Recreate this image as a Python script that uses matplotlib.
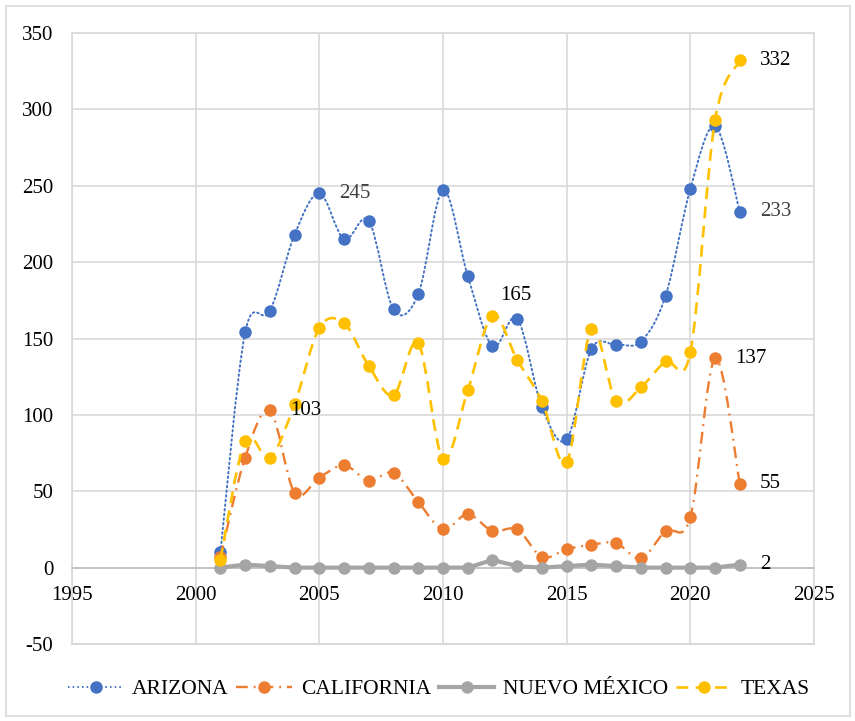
import matplotlib
matplotlib.use('Agg')
import matplotlib.pyplot as plt
import numpy as np
from matplotlib.path import Path
from matplotlib.patches import PathPatch, Rectangle
from matplotlib.lines import Line2D

years = list(range(2001, 2023))

arizona = [10, 154, 168, 218, 245, 215, 227, 169, 179, 247, 191,
           145, 163, 105, 84, 143, 146, 148, 178, 248, 289, 233]
california = [7, 72, 103, 49, 59, 67, 57, 62, 43, 25, 35,
              24, 25, 7, 12, 15, 16, 6, 24, 33, 137, 55]
nuevo_mexico = [0, 2, 1, 0, 0, 0, 0, 0, 0, 0, 0,
                5, 1, 0, 1, 2, 1, 0, 0, 0, 0, 2]
texas = [5, 83, 72, 107, 157, 160, 132, 113, 147, 71, 116,
         165, 136, 109, 69, 156, 109, 118, 135, 141, 293, 332]

names = ['ARIZONA', 'CALIFORNIA', 'NUEVO MÉXICO', 'TEXAS']

# (year index, series, text) labels shown on the chart
labels = [(4, 'ARIZONA', '245'), (21, 'ARIZONA', '233'),
          (2, 'CALIFORNIA', '103'), (20, 'CALIFORNIA', '137'), (21, 'CALIFORNIA', '55'),
          (21, 'NUEVO MÉXICO', '2'), (11, 'TEXAS', '165'), (21, 'TEXAS', '332')]

plt.rcParams['font.family'] = ['Liberation Serif', 'DejaVu Serif']
plt.rcParams['axes.unicode_minus'] = False


def smooth_path(x, y):
    # Excel style smoothed line: cubic bezier through every point
    x = np.asarray(x, float)
    y = np.asarray(y, float)
    n = len(x)
    verts = [(x[0], y[0])]
    codes = [Path.MOVETO]
    for i in range(n - 1):
        p0 = np.array([x[max(i - 1, 0)], y[max(i - 1, 0)]])
        p1 = np.array([x[i], y[i]])
        p2 = np.array([x[i + 1], y[i + 1]])
        p3 = np.array([x[min(i + 2, n - 1)], y[min(i + 2, n - 1)]])
        c1 = p1 + (p2 - p0) / 6.0
        c2 = p2 - (p3 - p1) / 6.0
        verts += [tuple(c1), tuple(c2), tuple(p2)]
        codes += [Path.CURVE4] * 3
    return Path(verts, codes)


styles = {
    'ARIZONA': dict(color='#4472C4', lw=1.4, ls=(0, (0.8, 1.6)), smooth=True, cap='round'),
    'CALIFORNIA': dict(color='#ED7D31', lw=1.7, ls=(0, (5, 2.5, 0.8, 2.5)), smooth=True, cap='butt'),
    'NUEVO MÉXICO': dict(color='#A5A5A5', lw=3.0, ls='-', smooth=False, cap='round'),
    'TEXAS': dict(color='#FFC000', lw=1.9, ls=(0, (4.5, 2.8)), smooth=True, cap='butt'),
}
series = {'ARIZONA': arizona, 'CALIFORNIA': california,
          'NUEVO MÉXICO': nuevo_mexico, 'TEXAS': texas}

fig = plt.figure(figsize=(8.55, 7.21), dpi=100)
ax = fig.add_axes([72 / 855, 1 - 644 / 721, (814 - 72) / 855, (644 - 33) / 721])

handles = []
for k, name in enumerate(names):
    st = styles[name]
    vals = series[name]
    z = 3 + 2 * k
    if st['smooth']:
        patch = PathPatch(smooth_path(years, vals), fill=False, edgecolor=st['color'],
                          lw=st['lw'], linestyle=st['ls'], zorder=z, capstyle=st['cap'])
        ax.add_patch(patch)
    else:
        ax.plot(years, vals, color=st['color'], lw=st['lw'], ls=st['ls'], zorder=z,
                solid_capstyle='round')
    ax.plot(years, vals, ls='none', marker='o', ms=9, color=st['color'],
            markeredgewidth=0, zorder=z + 1)
    handles.append(Line2D([], [], color=st['color'], lw=st['lw'], ls=st['ls'],
                          marker='o', ms=9, markeredgewidth=0, label=name))

for idx, name, txt in labels:
    col = '#404040' if name == 'ARIZONA' else 'black'
    off = (8, 20) if txt == '165' else (20, 0)
    ax.annotate(txt, (years[idx], series[name][idx]), xytext=off,
                textcoords='offset pixels', ha='left', va='center',
                fontsize=15, color=col, zorder=20)

ax.set_xlim(1995, 2025)
ax.set_ylim(-50, 350)
ax.set_xticks(range(1995, 2026, 5))
ax.set_yticks(range(-50, 351, 50))
ax.grid(True, color='#D9D9D9', lw=1.2, zorder=0)
ax.set_axisbelow(True)
ax.tick_params(length=0, labelsize=15, colors='black')
ax.tick_params(axis='y', pad=13.5)
ax.tick_params(axis='x', pad=13)

for s in ['left', 'right', 'top']:
    ax.spines[s].set_color('#D9D9D9')
    ax.spines[s].set_linewidth(1.2)
ax.spines['bottom'].set_position(('data', 0))
ax.spines['bottom'].set_color('#BFBFBF')
ax.spines['bottom'].set_linewidth(1.2)
ax.axhline(-50, color='#D9D9D9', lw=1.5, clip_on=False, zorder=1)

fig.legend(handles=handles, loc='center', bbox_to_anchor=(438.5 / 855, 1 - 689 / 721),
           ncol=4, frameon=False, fontsize=15.5, handlelength=2.6,
           handletextpad=0.4, columnspacing=0.35)

fig.add_artist(Rectangle((6 / 855, 5 / 721), 844 / 855, 710 / 721, transform=fig.transFigure,
                         fill=False, edgecolor='#D9D9D9', lw=1.2))

fig.savefig('out.png', dpi=100)
